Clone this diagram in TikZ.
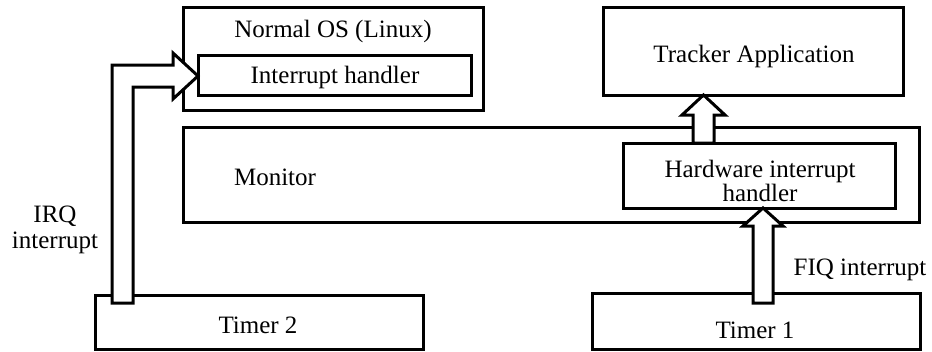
\documentclass[tikz,border=0pt]{standalone}
\usepackage{fontspec}
\setmainfont{Liberation Serif}
\begin{document}
\begin{tikzpicture}[x=1pt,y=-1pt,
  box/.style={draw,line width=3pt,inner sep=0pt,minimum width=#1},
  blockarrow/.style={draw,fill=white,line width=3pt,line join=miter},
  txt/.style={font=\fontsize{25}{27}\selectfont,inner sep=0pt,anchor=base,align=center}]
\useasboundingbox (0,0) rectangle (932,351);
% boxes
\node[box=300pt,minimum height=103pt] (os) at (333,58.5) {};
\node[box=273pt,minimum height=40pt] (ih) at (334.5,75) {};
\node[box=300pt,minimum height=88pt] (tracker) at (753,51) {};
\node[box=736pt,minimum height=95pt] (monitor) at (551,174.5) {};
\node[box=272pt,minimum height=65pt] (hw) at (759,175.5) {};
\node[box=328pt,minimum height=54pt] (t2) at (259,322) {};
\node[box=328pt,minimum height=56pt] (t1) at (756,321) {};
% texts
\node[txt] (ostxt) at (333,37) {Normal OS (Linux)};
\node[txt] (ihtxt) at (335,83) {Interrupt handler};
\node[txt] (trtxt) at (754,62) {Tracker Application};
\node[txt] (montxt) at (275,185) {Monitor};
\node[txt] (hwtxt1) at (760,177) {Hardware interrupt};
\node[txt] (hwtxt2) at (760,201) {handler};
\node[txt] (t2txt) at (258,333) {Timer 2};
\node[txt] (t1txt) at (755,338) {Timer 1};
\node[txt] (irq1) at (55,222) {IRQ};
\node[txt] (irq2) at (55,248) {interrupt};
\node[txt] (fiq) at (860,275) {FIQ interrupt};
% block arrows
\draw[blockarrow] (693,143) -- (693,115) -- (682,115) -- (703.5,95) -- (725,115) -- (714,115) -- (714,143) -- cycle;
\draw[blockarrow] (753,303) -- (753,226) -- (743,226) -- (763,208) -- (783,226) -- (773,226) -- (773,303) -- cycle;
\draw[blockarrow] (112,303) -- (112,65) -- (173,65) -- (173,53) -- (198,76) -- (173,99) -- (173,87) -- (133,87) -- (133,303) -- cycle;
\end{tikzpicture}
\end{document}
